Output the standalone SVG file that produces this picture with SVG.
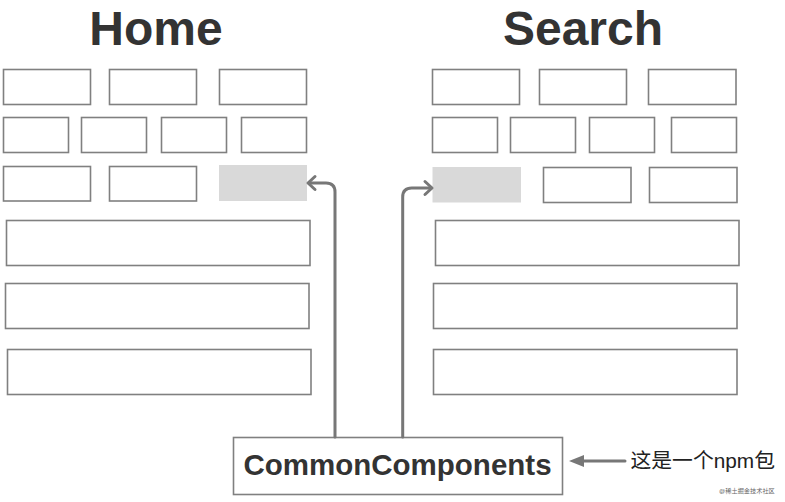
<svg xmlns="http://www.w3.org/2000/svg" width="785" height="502" viewBox="0 0 785 502">
<style>
.b{fill:#fff;stroke:#808080;stroke-width:1.6}
.g{fill:#d9d9d9;stroke:none}
.t{font-family:"Liberation Sans",Arial,sans-serif;font-weight:bold;fill:#333;text-anchor:middle}
.c{fill:none;stroke:#777;stroke-width:3;stroke-linejoin:round;stroke-linecap:round}
.n{font-family:"Liberation Sans","Noto Sans CJK SC",sans-serif;fill:#222}
</style>
<rect width="785" height="502" fill="#fff"/>
<g id="home">
<text class="t" x="156" y="44.5" font-size="48">Home</text>
<rect class="b" x="3.5" y="69.5" width="87" height="35"/>
<rect class="b" x="109.5" y="69.5" width="87" height="35"/>
<rect class="b" x="219.5" y="69.5" width="87" height="35"/>
<rect class="b" x="3.5" y="117.5" width="65" height="35"/>
<rect class="b" x="81.5" y="117.5" width="65" height="35"/>
<rect class="b" x="161.5" y="117.5" width="65" height="35"/>
<rect class="b" x="241.5" y="117.5" width="65" height="35"/>
<rect class="b" x="3.5" y="166.5" width="87" height="34.5"/>
<rect class="b" x="109.5" y="166.5" width="87" height="34.5"/>
<rect id="home-shared" class="g" x="219" y="165" width="88" height="36"/>
<rect class="b" x="6.5" y="220.5" width="303.5" height="45"/>
<rect class="b" x="5.5" y="283.5" width="303.5" height="45"/>
<rect class="b" x="7.5" y="349.5" width="303.5" height="45"/>
</g>
<g id="search">
<text class="t" x="583" y="44.5" font-size="48">Search</text>
<rect class="b" x="432.5" y="69.5" width="87" height="35"/>
<rect class="b" x="539.5" y="69.5" width="87" height="35"/>
<rect class="b" x="648.5" y="69.5" width="87.5" height="35"/>
<rect class="b" x="432.5" y="117.5" width="65" height="35"/>
<rect class="b" x="510.5" y="117.5" width="65" height="35"/>
<rect class="b" x="589.5" y="117.5" width="65" height="35"/>
<rect class="b" x="671.5" y="117.5" width="65" height="35"/>
<rect id="search-shared" class="g" x="432.5" y="167" width="88.5" height="35.5"/>
<rect class="b" x="543.5" y="167.5" width="87.5" height="35"/>
<rect class="b" x="649.5" y="167.5" width="87.5" height="35"/>
<rect class="b" x="435.5" y="220.5" width="303.5" height="45"/>
<rect class="b" x="433.5" y="283.5" width="303.5" height="45"/>
<rect class="b" x="433.5" y="349.5" width="303.5" height="45"/>
</g>
<g id="common">
<rect class="b" x="233.5" y="437.5" width="329" height="57"/>
<text class="t" x="397.5" y="475" font-size="29.5">CommonComponents</text>
</g>
<g id="note">
<text class="n" x="630.5" y="468" font-size="20.8">这是一个npm包</text>
<text class="n" x="719" y="492.5" font-size="6.2" style="fill:#666">@稀土掘金技术社区</text>
</g>
<g id="connectors">
<path class="c" d="M335,437 V192 Q335,183 326,183 H309"/>
<path class="c" d="M315,176.5 L308,183 L315,189.5"/>
<path class="c" d="M402.7,437 V197 Q402.7,188 411.7,188 H431"/>
<path class="c" d="M425,181.5 L432,188 L425,194.5"/>
<path class="c" d="M625,461 H580"/>
<path d="M569,461 L584,455 L584,467 Z" fill="#777"/>
</g>
</svg>
